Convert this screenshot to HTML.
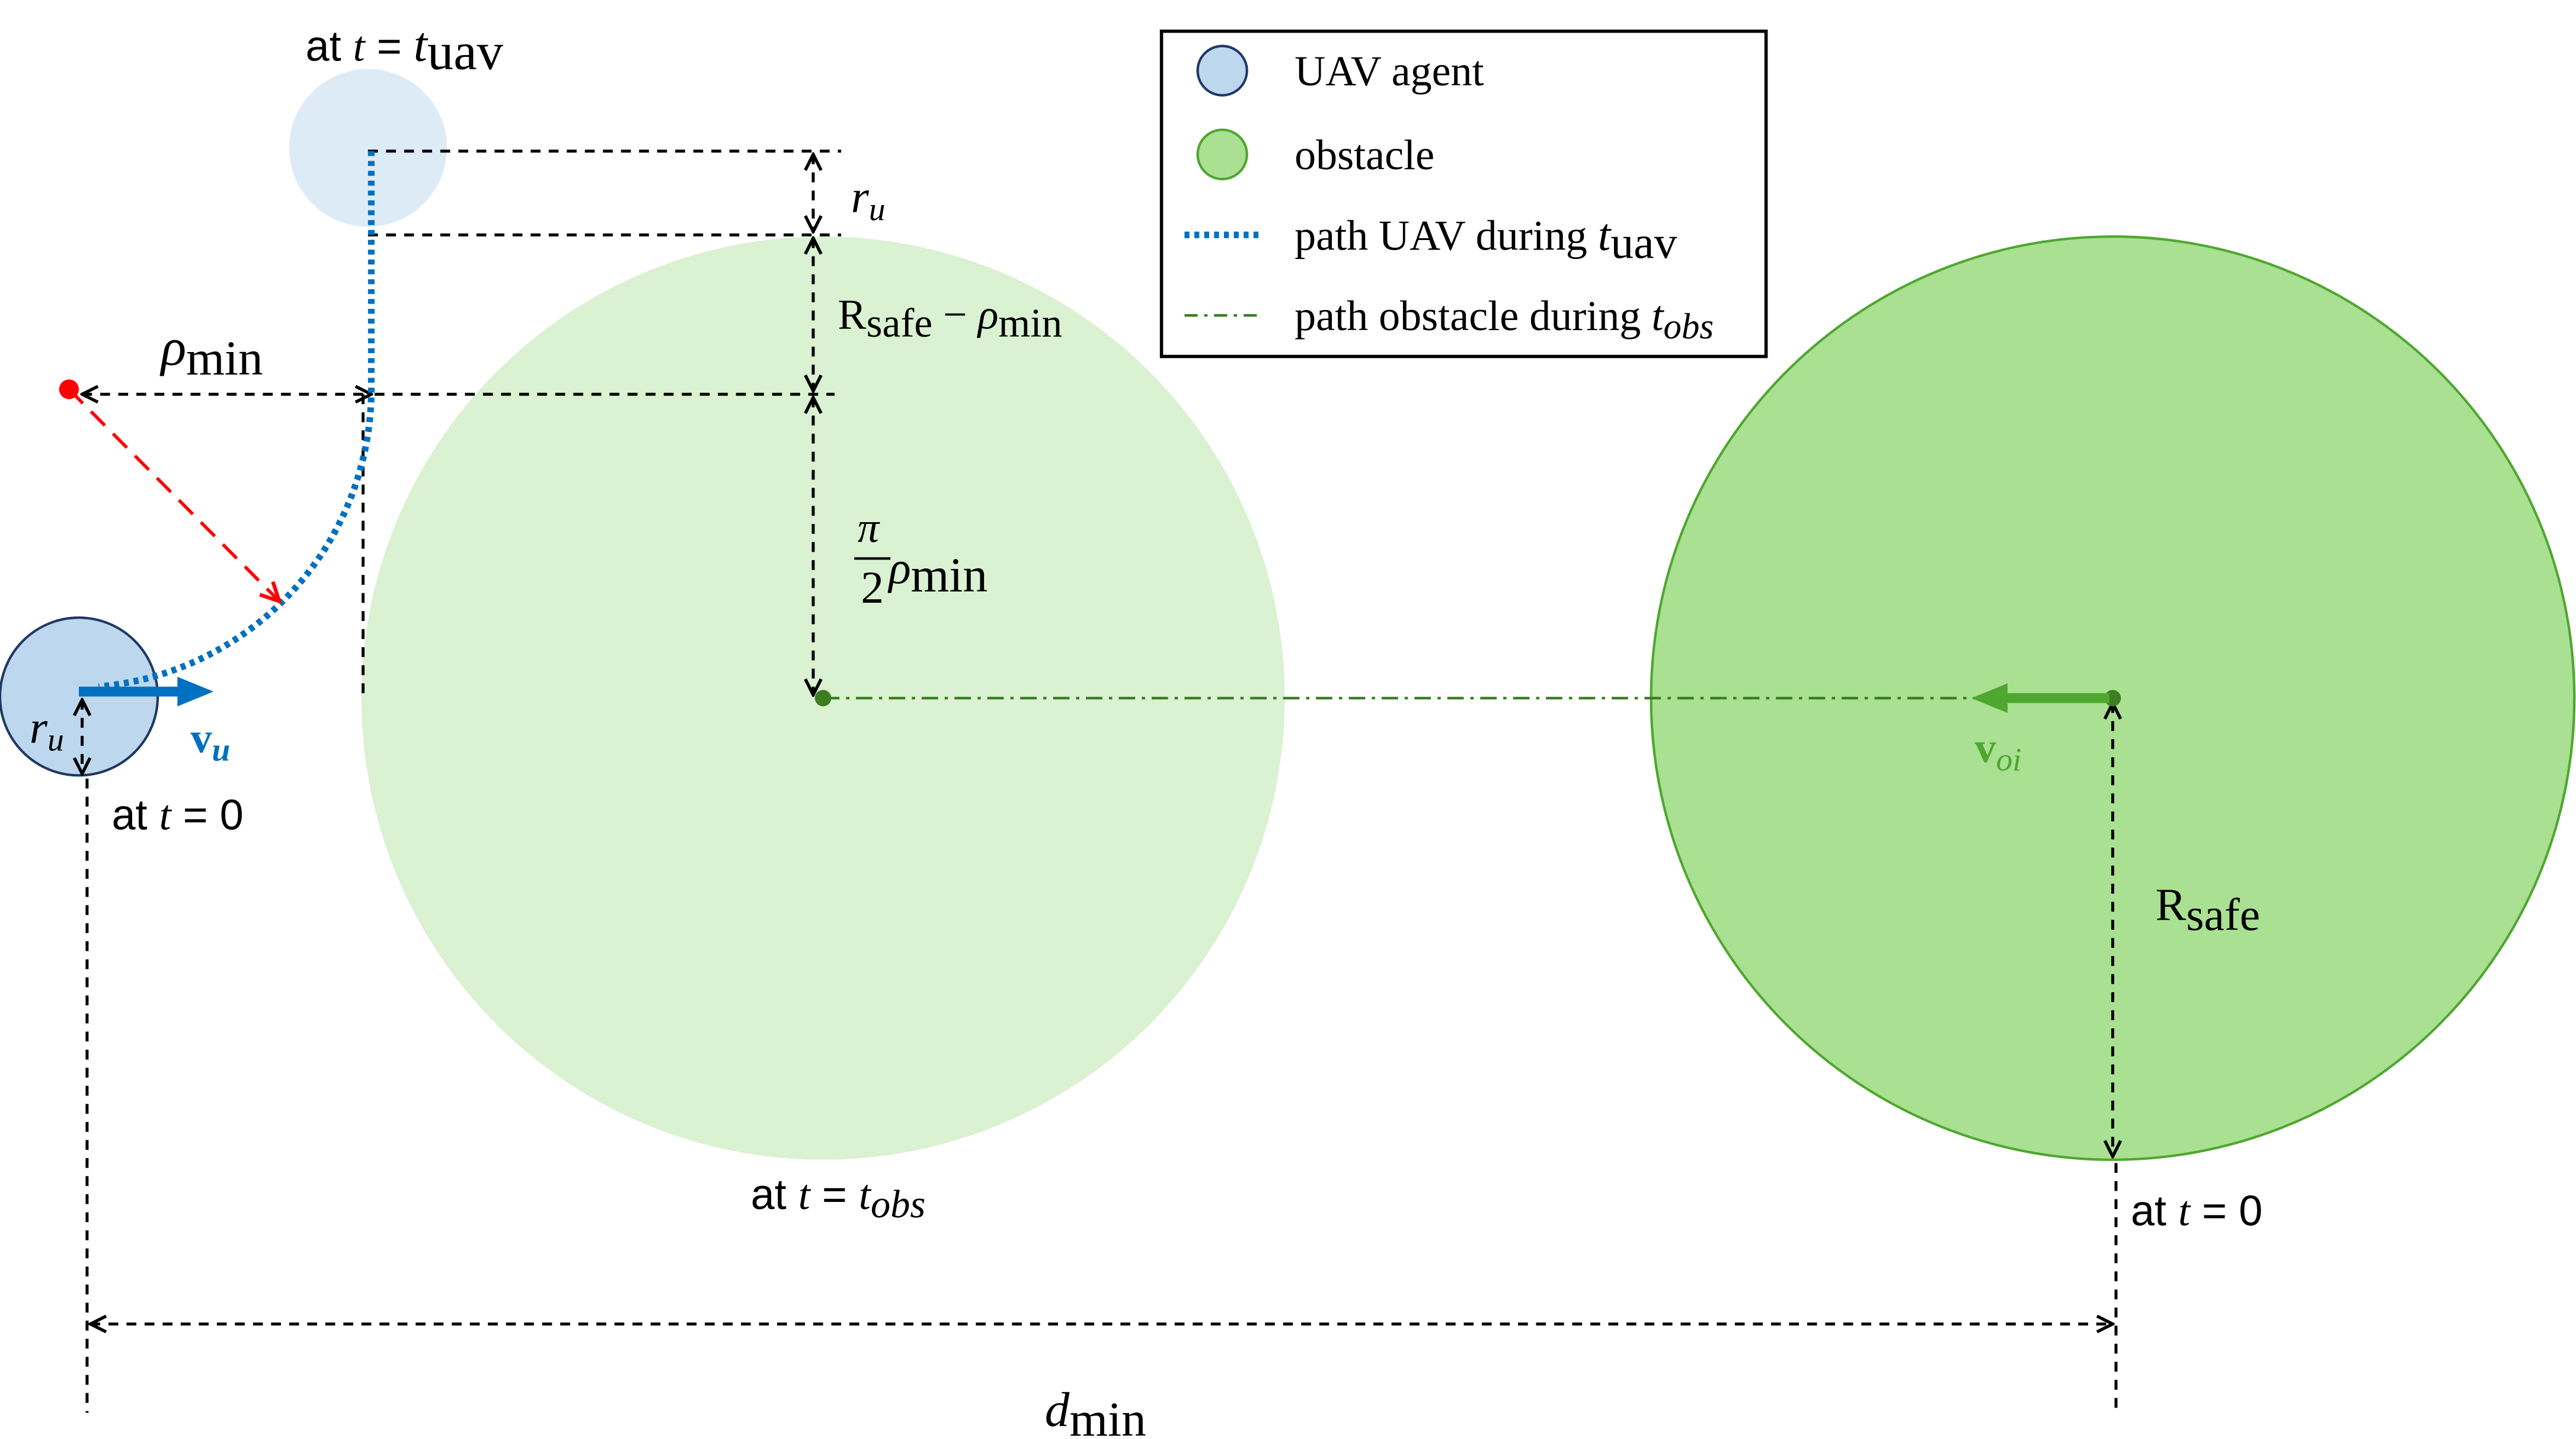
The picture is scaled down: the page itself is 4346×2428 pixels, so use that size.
<!DOCTYPE html>
<html><head><meta charset="utf-8"><style>
html,body{margin:0;padding:0;background:#fff;}
svg{display:block;}
.s{font-family:"Liberation Sans",sans-serif;}
.r{font-family:"Liberation Serif",serif;}
</style></head><body>
<svg width="4346" height="2428" viewBox="0 0 1568 876" xmlns="http://www.w3.org/2000/svg">
<defs>
<marker id="oa" viewBox="0 0 10 10" refX="9" refY="5" markerWidth="12" markerHeight="12" markerUnits="userSpaceOnUse" orient="auto-start-reverse"><path d="M1,1 L9,5 L1,9" fill="none" stroke="#000" stroke-width="1.6"/></marker>
<marker id="ra" viewBox="0 0 10 10" refX="9" refY="5" markerWidth="14" markerHeight="14" markerUnits="userSpaceOnUse" orient="auto"><path d="M1,1 L9,5 L1,9" fill="none" stroke="#f00" stroke-width="1.6"/></marker>
</defs>
<circle cx="501" cy="425" r="281" fill="#daf1d2"/>
<circle cx="1286" cy="425" r="281" fill="#a9e092" stroke="#4ea72e" stroke-width="1.5"/>
<circle cx="224" cy="90" r="48" fill="#ddebf7"/>
<circle cx="48" cy="424" r="48" fill="#bdd7ee" stroke="#1f3864" stroke-width="1.5"/>
<g stroke="#000" stroke-width="1.8" stroke-dasharray="6,5" fill="none">
<line x1="224" y1="92" x2="512" y2="92"/>
<line x1="224" y1="143" x2="512" y2="143"/>
<line x1="228" y1="240" x2="508" y2="240"/>
<line x1="50" y1="240" x2="226" y2="240" marker-start="url(#oa)" marker-end="url(#oa)"/>
<line x1="495" y1="94" x2="495" y2="141" marker-start="url(#oa)" marker-end="url(#oa)"/>
<line x1="495" y1="145" x2="495" y2="238" marker-start="url(#oa)" marker-end="url(#oa)"/>
<line x1="495" y1="242" x2="495" y2="423" marker-start="url(#oa)" marker-end="url(#oa)"/>
<line x1="221" y1="240" x2="221" y2="425"/>
<line x1="50" y1="426" x2="50" y2="471" marker-start="url(#oa)" marker-end="url(#oa)"/>
<line x1="53" y1="474" x2="53" y2="860"/>
<line x1="1286" y1="428" x2="1286" y2="704" marker-start="url(#oa)" marker-end="url(#oa)"/>
<line x1="1288" y1="708" x2="1288" y2="860"/>
<line x1="55" y1="806" x2="1286" y2="806" marker-start="url(#oa)" marker-end="url(#oa)"/>
</g>
<path d="M226,92 L226,240 A182,182 0 0 1 60,418" fill="none" stroke="#0070c0" stroke-width="4" stroke-dasharray="3,3"/>
<line x1="42" y1="237" x2="170" y2="366" stroke="#f00" stroke-width="2" stroke-dasharray="12,7" marker-end="url(#ra)"/>
<circle cx="42" cy="237" r="6" fill="#f00"/>
<line x1="501" y1="425" x2="1286" y2="425" stroke="#3b7d23" stroke-width="1.6" stroke-dasharray="10,4,2,4"/>
<circle cx="501" cy="425" r="5" fill="#3b7d23"/>
<circle cx="1286" cy="425" r="5" fill="#3b7d23"/>
<line x1="48" y1="421" x2="112" y2="421" stroke="#0070c0" stroke-width="6"/>
<path d="M108,412 L130,421 L108,430 Z" fill="#0070c0"/>
<line x1="1284" y1="425" x2="1218" y2="425" stroke="#4ea72e" stroke-width="6"/>
<path d="M1222,416 L1200,425 L1222,434 Z" fill="#4ea72e"/>
<g font-size="26" fill="#000">
<text class="s" x="186" y="37">at <tspan class="r" font-style="italic">t</tspan> = <tspan class="r" font-style="italic" font-size="30">t</tspan><tspan class="r" font-size="32" dy="5">uav</tspan></text>
<text class="r" x="518" y="129" font-style="italic" font-size="28">r<tspan font-size="20" dy="5">u</tspan></text>
<text class="r" x="510" y="200" font-size="26">R<tspan font-size="25" dy="5">safe</tspan><tspan dy="-5"> − </tspan><tspan font-style="italic">ρ</tspan><tspan font-size="25" dy="5">min</tspan></text>
<text class="r" x="98" y="222" font-size="32"><tspan font-style="italic">ρ</tspan><tspan font-size="30" dy="6">min</tspan></text>
<text class="r" x="522" y="330" font-size="26" font-style="italic">π</text>
<line x1="520" y1="340" x2="542" y2="340" stroke="#000" stroke-width="1.5"/>
<text class="r" x="524" y="367" font-size="28">2<tspan font-style="italic" dx="3" dy="-12">ρ</tspan><tspan font-size="30" dy="5">min</tspan></text>
<text class="r" x="18" y="452" font-style="italic" font-size="28">r<tspan font-size="20" dy="5">u</tspan></text>
<text class="r" x="116" y="458" font-size="26" font-weight="bold" fill="#0070c0">v<tspan font-size="20" font-style="italic" dy="5">u</tspan></text>
<text class="s" x="68" y="505">at <tspan class="r" font-style="italic">t</tspan> = 0</text>
<text class="r" x="1202" y="464" font-size="26" font-weight="bold" fill="#4ea72e">v<tspan font-size="20" font-style="italic" font-weight="normal" dy="5">oi</tspan></text>
<text class="r" x="1312" y="560" font-size="28">R<tspan font-size="28" dy="6">safe</tspan></text>
<text class="s" x="457" y="736">at <tspan class="r" font-style="italic">t</tspan> = <tspan class="r" font-style="italic">t</tspan><tspan class="r" font-style="italic" font-size="24" dy="5">obs</tspan></text>
<text class="s" x="1297" y="746">at <tspan class="r" font-style="italic">t</tspan> = 0</text>
<text class="r" x="636" y="868" font-size="30"><tspan font-style="italic">d</tspan><tspan font-size="30" dy="6">min</tspan></text>
</g>
<g>
<rect x="707" y="19" width="368" height="198" fill="#fff" stroke="#000" stroke-width="2"/>
<g><circle cx="744" cy="43" r="15" fill="#bdd7ee" stroke="#1f3864" stroke-width="1.5"/><text class="r" x="788" y="52" font-size="26">UAV agent</text></g>
<g><circle cx="744" cy="94" r="15" fill="#a9e092" stroke="#4ea72e" stroke-width="1.5"/><text class="r" x="788" y="103" font-size="26">obstacle</text></g>
<g><line x1="721" y1="143" x2="768" y2="143" stroke="#0070c0" stroke-width="4" stroke-dasharray="3,3"/><text class="r" x="788" y="152" font-size="26">path UAV during <tspan font-style="italic" font-size="28">t</tspan><tspan font-size="28" dy="5">uav</tspan></text></g>
<g><line x1="721" y1="192" x2="768" y2="192" stroke="#3b7d23" stroke-width="1.6" stroke-dasharray="8,4,2,4"/><text class="r" x="788" y="201" font-size="26">path obstacle during <tspan font-style="italic">t</tspan><tspan font-style="italic" font-size="22" dy="5">obs</tspan></text></g>
</g>
</svg>
</body></html>
